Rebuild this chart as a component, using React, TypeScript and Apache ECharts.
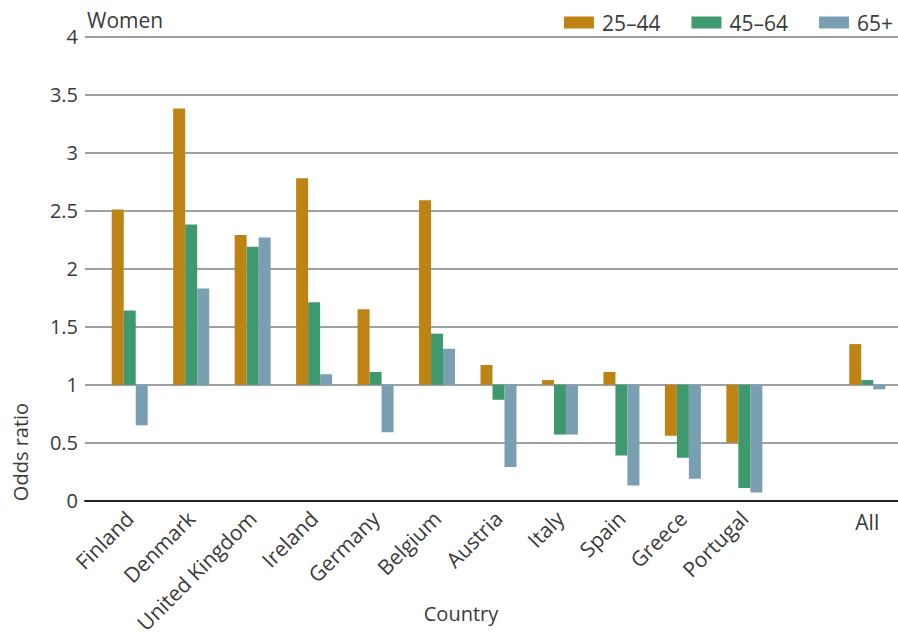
import React, { useEffect, useRef } from "react";
import * as echarts from "echarts";

const categories = [
  "Finland", "Denmark", "United Kingdom", "Ireland", "Germany", "Belgium",
  "Austria", "Italy", "Spain", "Greece", "Portugal", "", "All",
];
const age2544 = [2.51, 3.38, 2.29, 2.78, 1.65, 2.59, 1.17, 1.04, 1.11, 0.56, 0.5, null, 1.35];
const age4564 = [1.64, 2.38, 2.19, 1.71, 1.11, 1.44, 0.87, 0.57, 0.39, 0.37, 0.11, null, 1.04];
const age65 = [0.65, 1.83, 2.27, 1.09, 0.59, 1.31, 0.29, 0.57, 0.13, 0.19, 0.07, null, 0.96];
const seriesNames = ["25–44", "45–64", "65+"];
const colors = ["#BD8314", "#3E9A6E", "#7A9FB3"];
const BASE = 1;
const Y_MIN = 0;
const Y_MAX = 4;
const Y_STEP = 0.5;

const FONT = "'Open Sans', 'Noto Sans', sans-serif";
const TEXT = "#3a3a3a";

export default function App() {
  const ref = useRef<HTMLDivElement>(null);
  useEffect(() => {
    document.body.style.margin = "0";
    if (!ref.current) return;
    const chart = echarts.init(ref.current, undefined, { renderer: "svg" });
    const shift = (arr: (number | null)[]) => arr.map((v) => (v == null ? null : v - BASE));
    const yCommon = {
      type: "value" as const,
      min: Y_MIN - BASE,
      max: Y_MAX - BASE,
      interval: Y_STEP,
    };
    chart.setOption({
      animation: false,
      textStyle: { fontFamily: FONT },
      title: {
        text: "Women",
        left: 82,
        top: 4,
        textStyle: { fontFamily: FONT, fontSize: 21, fontWeight: "normal", color: TEXT },
      },
      legend: {
        right: 0,
        top: 7,
        itemWidth: 30,
        itemHeight: 12,
        itemGap: 31,
        icon: "rect",
        data: seriesNames,
        textStyle: { fontFamily: FONT, fontSize: 21, color: TEXT, padding: [0, 0, 0, 3] },
      },
      grid: [
        { left: 99, right: -6, top: 36.7, bottom: 142.3 },
        { left: 85, right: 0, top: 36.7, bottom: 142.3 },
      ],
      xAxis: [
        {
          type: "category",
          gridIndex: 0,
          data: categories,
          position: "bottom",
          axisLine: { show: false, onZero: false },
          axisTick: { show: false },
          axisLabel: {
            rotate: 45,
            margin: 14,
            interval: 0,
            fontFamily: FONT,
            fontSize: 21,
            color: TEXT,
            formatter: (v: string) => (v === "All" ? "" : v),
          },
        },
        {
          type: "category",
          gridIndex: 0,
          data: categories,
          position: "bottom",
          axisLine: { show: false, onZero: false },
          axisTick: { show: false },
          axisLabel: {
            rotate: 0,
            margin: 11,
            interval: 0,
            fontFamily: FONT,
            fontSize: 21,
            color: TEXT,
            formatter: (v: string) => (v === "All" ? v : ""),
          },
        },
        {
          type: "value",
          gridIndex: 1,
          min: 0,
          max: 1,
          position: "bottom",
          axisLine: { show: true, onZero: false, lineStyle: { color: "#222", width: 2 } },
          axisTick: { show: false },
          axisLabel: { show: false },
          splitLine: { show: false },
        },
      ],
      yAxis: [
        { ...yCommon, gridIndex: 0, show: false, splitLine: { show: false } },
        {
          ...yCommon,
          gridIndex: 1,
          axisLine: { show: false },
          axisTick: { show: false },
          axisLabel: {
            margin: 7,
            fontFamily: FONT,
            fontSize: 20,
            color: TEXT,
            formatter: (v: number) => String(+(v + BASE).toFixed(1)),
          },
          splitLine: { show: true, lineStyle: { color: "#9da1a3", width: 2 } },
        },
      ],
      series: [age2544, age4564, age65].map((arr, i) => ({
        name: seriesNames[i],
        type: "bar",
        xAxisIndex: 0,
        yAxisIndex: 0,
        data: shift(arr),
        barWidth: 12,
        barGap: "0%",
        itemStyle: { color: colors[i] },
        z: 3,
      })),
      graphic: [
        {
          type: "text",
          x: 20,
          y: 452,
          rotation: Math.PI / 2,
          style: {
            text: "Odds ratio",
            fontFamily: FONT,
            fontSize: 20,
            fill: TEXT,
            align: "center",
            verticalAlign: "middle",
          },
        },
        {
          type: "text",
          x: 461,
          y: 613,
          style: {
            text: "Country",
            fontFamily: FONT,
            fontSize: 20,
            fill: TEXT,
            align: "center",
            verticalAlign: "middle",
          },
        },
      ],
    });
    return () => chart.dispose();
  }, []);
  return (
    <div
      ref={ref}
      style={{ position: "absolute", left: 0, top: 0, width: 898, height: 643 }}
    />
  );
}
